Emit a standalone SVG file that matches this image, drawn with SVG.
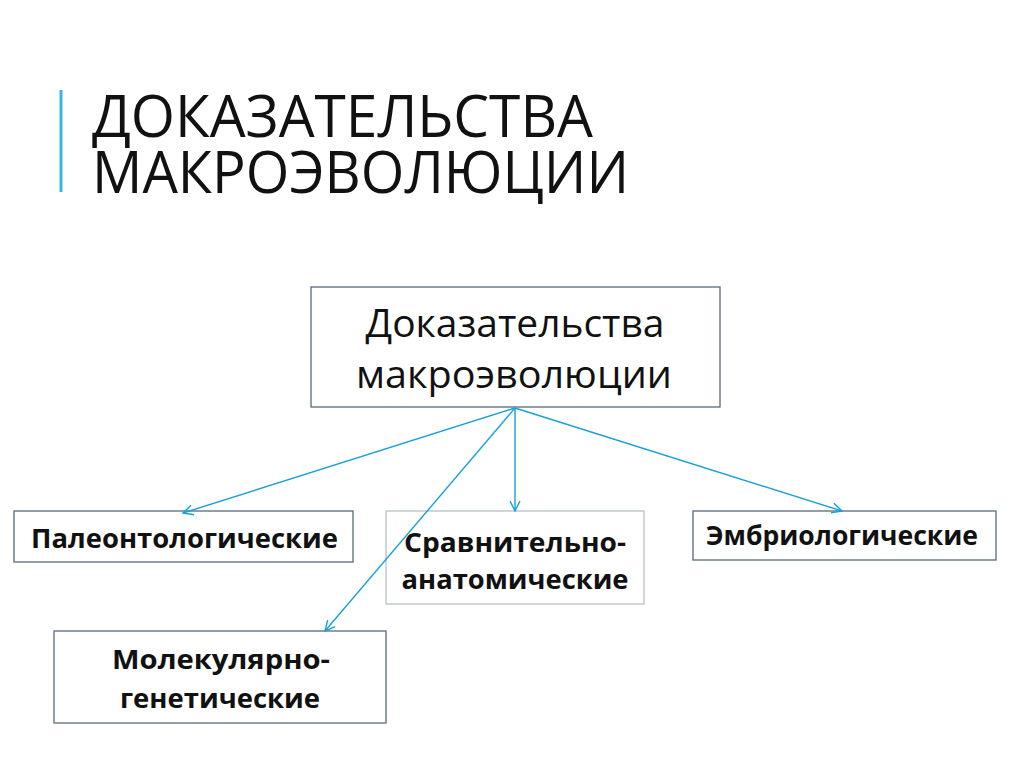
<svg xmlns="http://www.w3.org/2000/svg" width="1024" height="767" viewBox="0 0 1024 767">
<style>
.box{fill:none;stroke:#5a6a7a;stroke-width:1.3}
.title{font-family:"Open Sans","DejaVu Sans",sans-serif;font-size:58px;fill:#111}
.main{font-family:"Open Sans","DejaVu Sans",sans-serif;font-size:38px;fill:#111;text-anchor:middle}
.lbl{font-family:"Open Sans","DejaVu Sans",sans-serif;font-size:27px;font-weight:bold;fill:#111;text-anchor:middle}
.conn{stroke:#1aa0d8;stroke-width:1.4;fill:none;marker-end:url(#arr)}
</style>
<defs>
<marker id="arr" viewBox="0 0 12 12" refX="11" refY="6" markerWidth="12" markerHeight="12" markerUnits="userSpaceOnUse" orient="auto">
<path d="M1,1 L11,6 L1,11" fill="none" stroke="#1aa0d8" stroke-width="1.4"/>
</marker>
</defs>
<rect width="1024" height="767" fill="#fff"/>
<g id="title">
<line x1="61" y1="90" x2="61" y2="192" stroke="#3cb3e6" stroke-width="3"/>
<text class="title"><tspan x="92" y="137" textLength="501" lengthAdjust="spacingAndGlyphs">ДОКАЗАТЕЛЬСТВА</tspan><tspan x="92" y="193" textLength="537" lengthAdjust="spacingAndGlyphs">МАКРОЭВОЛЮЦИИ</tspan></text>
</g>
<g id="root">
<rect class="box" x="311" y="287" width="409" height="120"/>
<text class="main" x="515" y="337" textLength="299" lengthAdjust="spacingAndGlyphs">Доказательства</text>
<text class="main" x="514" y="388" textLength="316" lengthAdjust="spacingAndGlyphs">макроэволюции</text>
</g>
<g id="paleo">
<rect class="box" x="14" y="511" width="339" height="51"/>
<text class="lbl" x="184.5" y="548" textLength="307" lengthAdjust="spacingAndGlyphs">Палеонтологические</text>
</g>
<g id="compar">
<rect class="box" x="386" y="511" width="258" height="93" style="stroke:#b8c0c8"/>
<text class="lbl" x="515" y="552" textLength="222" lengthAdjust="spacingAndGlyphs">Сравнительно-</text>
<text class="lbl" x="515" y="589" textLength="227" lengthAdjust="spacingAndGlyphs">анатомические</text>
</g>
<g id="embryo">
<rect class="box" x="693" y="511" width="303" height="49"/>
<text class="lbl" x="842" y="545" textLength="272" lengthAdjust="spacingAndGlyphs">Эмбриологические</text>
</g>
<g id="molec">
<rect class="box" x="54" y="631" width="332" height="92"/>
<text class="lbl" x="221" y="669" textLength="218" lengthAdjust="spacingAndGlyphs">Молекулярно-</text>
<text class="lbl" x="220" y="708" textLength="200" lengthAdjust="spacingAndGlyphs">генетические</text>
</g>
<g id="connectors">
<line class="conn" x1="515" y1="408" x2="183" y2="513"/>
<line class="conn" x1="515" y1="408" x2="515" y2="511"/>
<line class="conn" x1="515" y1="408" x2="842" y2="511"/>
<line class="conn" x1="515" y1="408" x2="325" y2="631"/>
</g>
</svg>
